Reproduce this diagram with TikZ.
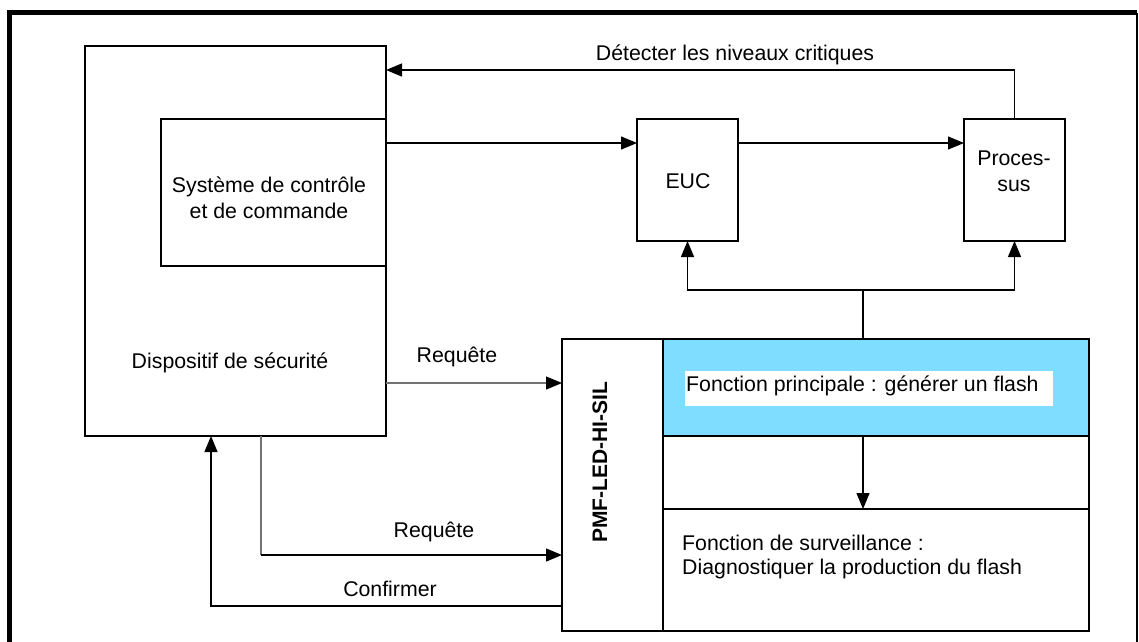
\documentclass[tikz,border=0pt]{standalone}
\usepackage{fontspec}
\setmainfont{Liberation Sans}
\usetikzlibrary{arrows.meta}
\definecolor{pmfblue}{RGB}{127,222,255}
\tikzset{
  boxline/.style={draw=black, line width=2pt, outer sep=0pt},
  conn/.style={draw=black, line width=1.3pt},
  arr/.style={conn, -{Triangle[length=16pt,width=13pt,color=black]}},
  lbl/.style={inner sep=0pt, font=\fontsize{21.3}{26}\selectfont},
}
\begin{document}
\begin{tikzpicture}[x=1pt, y=-1pt]
\useasboundingbox (0,0) rectangle (1139,641);
% outer frame
\draw[line width=4.5pt] (9.5,645) -- (9.5,12.5) -- (1137,12.5);
\draw[line width=2.5pt] (1137,12.5) -- (1137,645);

% boxes
\node[boxline, inner sep=0pt, minimum width=301pt, minimum height=390pt, anchor=north west] (disp) at (85,46) {};
\node[boxline, inner sep=0pt, minimum width=225pt, minimum height=147pt, anchor=north west] (sys) at (161,119) {};
\node[boxline, inner sep=0pt, minimum width=101pt, minimum height=122pt, anchor=north west] (euc) at (637,119) {};
\node[boxline, inner sep=0pt, minimum width=101pt, minimum height=122pt, anchor=north west] (proc) at (964,119) {};

% PMF block
\node[inner sep=0pt, outer sep=0pt, minimum width=527pt, minimum height=292pt, anchor=north west] (pmf) at (562,339) {};
\node[boxline, fill=pmfblue, inner sep=0pt, minimum width=426pt, minimum height=97pt, anchor=north west] (main) at (663,339) {};
\node[boxline, inner sep=0pt, minimum width=426pt, minimum height=73pt, anchor=north west] (mid) at (663,436) {};
\node[boxline, inner sep=0pt, minimum width=426pt, minimum height=122pt, anchor=north west] (surv) at (663,509) {};
\node[boxline, inner sep=0pt, minimum width=101pt, minimum height=292pt, anchor=north west] (pmfcol) at (562,339) {};
\node[fill=white, inner sep=0pt, outer sep=0pt, minimum width=368pt, minimum height=35pt, anchor=north west] (mainbg) at (685,371) {};

% texts
\node[lbl, align=center] (tsys) at (269,198) {Système de contrôle\\et de commande};
\node[lbl] (tdisp) at (230,363) {Dispositif de sécurité};
\node[lbl] (teuc) at (688,181) {EUC};
\node[lbl, align=center] (tproc) at (1014,171) {Proces-\\sus};
\node[lbl, rotate=90, font=\fontsize{21}{26}\selectfont\bfseries] (tpmf) at (600,462) {PMF-LED-HI-SIL};
\node[lbl, anchor=west] (tmain) at (686,386) {Fonction principale : générer un flash};
\node[lbl, anchor=west, align=left, font=\fontsize{21.3}{24.5}\selectfont] (tsurv) at (682,557) {Fonction de surveillance :\\Diagnostiquer la production du flash};
\node[lbl] (tdet) at (735,55) {Détecter les niveaux critiques};
\node[lbl] (treq1) at (457,357) {Requête};
\node[lbl] (treq2) at (434,532) {Requête};
\node[lbl] (tconf) at (390,589) {Confirmer};

% connectors
\coordinate (dtop) at (1014.5,70);
\draw[arr] (proc.north) -- (proc.north |- dtop) -- (disp.east |- dtop);
\coordinate (sysout) at (386,143);
\draw[arr] (sysout) -- (euc.west |- sysout);
\draw[arr] (euc.east |- sysout) -- (proc.west |- sysout);
\coordinate (split) at (863,290);
\draw[conn] (main.north -| split) -- (split);
\draw[arr] (split) -| (euc.south);
\draw[arr] (split) -| (proc.south);
\coordinate (req1) at (386,383);
\draw[arr, draw=black!55, line width=1.1pt] (req1) -- (pmfcol.west |- req1);
\coordinate (req2) at (261,555);
\draw[conn, draw=black!55, line width=1.1pt] (disp.south -| req2) -- (req2);
\draw[arr] (req2) -- (pmfcol.west |- req2);
\coordinate (conf) at (211,606);
\draw[arr] (pmfcol.west |- conf) -- (conf) -- (disp.south -| conf);
\draw[arr] (main.south -| split) -- (mid.south -| split);
\end{tikzpicture}
\end{document}
